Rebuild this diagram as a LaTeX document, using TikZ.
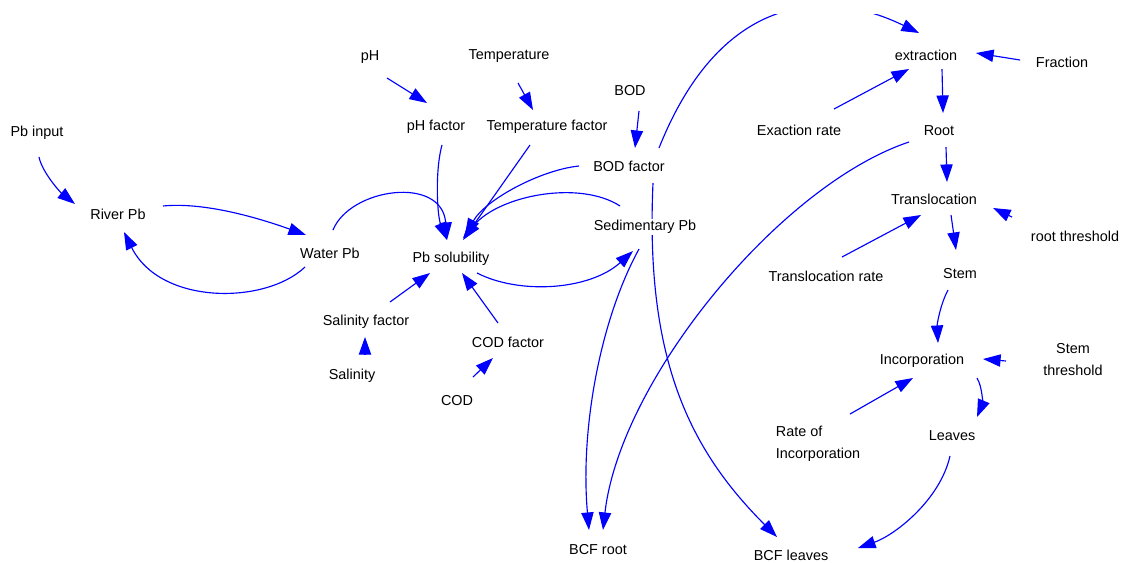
\documentclass[tikz,border=0pt]{standalone}
\usepackage{fontspec}
\setmainfont{Liberation Sans}
\usetikzlibrary{arrows.meta,calc,backgrounds}

\begin{document}
\begin{tikzpicture}[
    x=0.02cm, y=-0.02cm,
    >={Triangle[length=10pt,width=7pt]},
    var/.style={font=\fontsize{8.2}{12.5}\selectfont, inner sep=1pt},
    link/.style={->, draw=blue, line width=0.65pt}
]
\useasboundingbox (0,0) rectangle (1121,562);

% River and water
\node[var] (pbin) at (37,133) {Pb input};
\node[var] (river) at (118,214) {River Pb};
\node[var] (water) at (330,253) {Water Pb};

% Solubility factors
\node[var] (pH) at (370,57) {pH};
\node[var] (pHf) at (436,127) {pH factor};
\node[var] (temp) at (509,56) {Temperature};
\node[var] (tempf) at (547,127) {Temperature factor};
\node[var] (bod) at (630,91) {BOD};
\node[var] (bodf) at (629,166) {BOD factor};
\node[var] (sol) at (451,259) {Pb solubility};
\node[var, fill=white] (sed) at (645,227) {Sedimentary Pb};
\node[var] (salf) at (366,322) {Salinity factor};
\node[var] (sal) at (352,376) {Salinity};
\node[var] (codf) at (508,342) {COD factor};
\node[var] (cod) at (457,401) {COD};

% Plant uptake
\node[var] (extr) at (926,55) {extraction};
\node[var] (frac) at (1062,62) {Fraction};
\node[var] (exrate) at (799,130) {Exaction rate};
\node[var] (root) at (939,131) {Root};
\node[var] (trans) at (934,199) {Translocation};
\node[var] (rootth) at (1075,236) {root threshold};
\node[var] (transrate) at (826,276) {Translocation rate};
\node[var] (stem) at (960,274) {Stem};
\node[var] (incorp) at (922,361) {Incorporation};
\node[var, align=center] (stemth) at (1073,360) {Stem\\threshold};
\node[var, align=left] (rateinc) at (818,444) {Rate of\\Incorporation};
\node[var] (leaves) at (952,436) {Leaves};
\node[var] (bcfroot) at (598,550) {BCF root};
\node[var] (bcfleaves) at (791,555) {BCF leaves};

% Arrows
\draw[link] ($(pbin)+(2,24)$) .. controls +(3,15) and +(-15,-12) .. ($(river)+(-43,-10)$);
\draw[link] ($(river)+(45,-8)$) .. controls +(40,-4) and +(-50,-18) .. ($(water)+(-24,-18)$);
\draw[link] ($(water)+(-25,14)$) .. controls +(-40,38) and +(36,73) .. ($(river)+(6,18)$);
\draw[link] ($(water)+(3,-23)$) .. controls +(17,-42) and +(-5,-65) .. ($(sol)+(-4,-19)$);

\draw[link] ($(pH)+(17,21)$) -- ($(pHf)+(-9,-24)$);
\draw[link] ($(temp)+(9,27)$) -- ($(tempf)+(-14,-17)$);
\draw[link] ($(bod)+(9,20)$) -- ($(bodf)+(6,-18)$);

\draw[link] ($(pHf)+(6,18)$) .. controls +(-7,25) and +(-10,-25) .. ($(sol)+(-4,-19)$);
\draw[link] ($(tempf)+(-17,18)$) -- ($(sol)+(12,-19)$);
\draw[link] ($(bodf)+(-50,0)$) .. controls +(-39,4) and +(20,-36) .. ($(sol)+(14,-23)$);
\draw[link] ($(sed)+(-25,-21)$) .. controls +(-40,-26) and +(37,-43) .. ($(sol)+(12,-21)$);

\draw[link] ($(salf)+(24,-20)$) -- ($(sol)+(-21,14)$);
\draw[link] ($(sal)+(13,-21)$) -- ($(salf)+(-1,15)$);
\draw[link] ($(cod)+(16,-24)$) -- ($(codf)+(-15,16)$);
\draw[link] ($(codf)+(-10,-19)$) -- ($(sol)+(11,14)$);

\draw[link] ($(sol)+(26,14)$) .. controls +(43,22) and +(-43,39) .. ($(sed)+(-12,24)$);
\draw[link] ($(sed)+(-6,22)$) .. controls +(-39,71) and +(-9,-100) .. ($(bcfroot)+(-9,-20)$);
\draw[link] ($(root)+(-30,11)$) .. controls +(-129,43) and +(17,-150) .. ($(bcfroot)+(5,-20)$);

% this one runs behind the Sedimentary Pb label
\begin{pgfonlayer}{background}
\draw[link] ($(bodf)+(24,17)$) .. controls +(-8,177) and +(-87,-87) .. ($(bcfleaves)+(-14,-18)$);
\end{pgfonlayer}

% arc leaves the top of the page
\begin{scope}
\clip (0,14) rectangle (1121,562);
\draw[link] ($(bodf)+(30,-18)$) .. controls +(63,-158) and +(-90,-44) .. ($(extr)+(-7,-22)$);
\end{scope}

\draw[link] ($(frac)+(-42,-2)$) -- ($(extr)+(50,-2)$);
\draw[link] ($(exrate)+(35,-21)$) -- ($(extr)+(-17,14)$);
\draw[link] ($(extr)+(16,14)$) -- ($(root)+(4,-18)$);
\draw[link] ($(root)+(7,16)$) -- ($(trans)+(13,-17)$);
\draw[link] ($(transrate)+(16,-19)$) -- ($(trans)+(-13,16)$);
\draw[link] ($(rootth)+(-63,-19)$) -- ($(trans)+(59,9)$);
\draw[link] ($(trans)+(17,16)$) -- ($(stem)+(-4,-24)$);
\draw[link] ($(stem)+(-12,16)$) .. controls +(-8,15) and +(-1,-18) .. ($(incorp)+(16,-18)$);
\draw[link] ($(stemth)+(-67,1)$) -- ($(incorp)+(61,-2)$);
\draw[link] ($(incorp)+(55,17)$) .. controls +(6,10) and +(5,-12) .. ($(leaves)+(25,-19)$);
\draw[link] ($(rateinc)+(32,-30)$) -- ($(incorp)+(-9,17)$);
\draw[link] ($(leaves)+(-2,20)$) .. controls +(-10,44) and +(37,-13) .. ($(bcfleaves)+(67,-7)$);

\end{tikzpicture}
\end{document}
